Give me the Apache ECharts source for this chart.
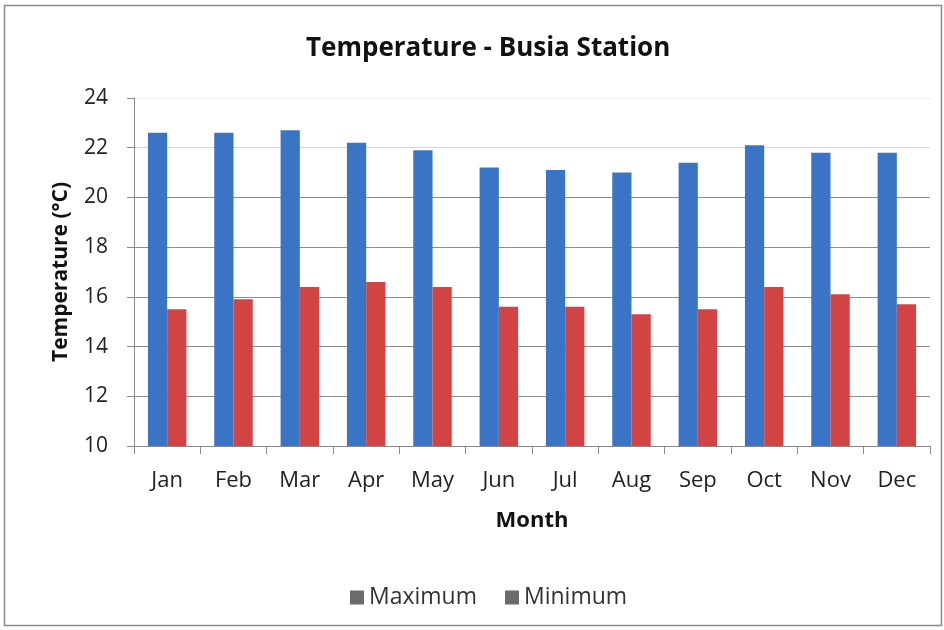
<!DOCTYPE html>
<html><head><meta charset="utf-8">
<script src="https://cdn.jsdelivr.net/npm/echarts@6/dist/echarts.min.js"></script>
<style>html,body{margin:0;padding:0;background:#fff}#c{width:944px;height:630px}</style>
</head><body><div id="c"></div>
<script>
var months = ['Jan','Feb','Mar','Apr','May','Jun','Jul','Aug','Sep','Oct','Nov','Dec'];
var maximum = [22.6,22.6,22.7,22.2,21.9,21.2,21.1,21.0,21.4,22.1,21.8,21.8];
var minimum = [15.5,15.9,16.4,16.6,16.4,15.6,15.6,15.3,15.5,16.4,16.1,15.7];
var yTicks = [10,12,14,16,18,20,22,24];

var font = 'Open Sans';
var chart = echarts.init(document.getElementById('c'), null, {renderer:'canvas'});
chart.setOption({
  animation:false,
  backgroundColor:'#fff',
  graphic:[{type:'rect',shape:{x:4.5,y:5.5,width:937,height:620},style:{fill:'none',stroke:'#8a8a8a',lineWidth:1.5}}],
  title:{text:'Temperature - Busia Station',left:301,top:31,
    textStyle:{fontFamily:font,fontWeight:'bold',fontSize:26,color:'#111'}},
  legend:{top:581,left:345,itemWidth:14,itemHeight:14,itemGap:28,icon:'rect',
    textStyle:{fontFamily:font,fontSize:23,color:'#333'},
    data:[{name:'Maximum',itemStyle:{color:'#6b6b6b'}},{name:'Minimum',itemStyle:{color:'#6b6b6b'}}]},
  grid:{left:134,right:14,top:98,bottom:184},
  xAxis:{type:'category',data:months,
    name:'Month',nameLocation:'middle',nameGap:64,
    nameTextStyle:{fontFamily:font,fontWeight:'bold',fontSize:22,color:'#111'},
    axisLine:{lineStyle:{color:'#888',width:1}},
    axisTick:{show:true,length:8,lineStyle:{color:'#888'}},
    axisLabel:{fontFamily:font,fontSize:22,color:'#222',margin:24}},
  yAxis:{type:'value',min:yTicks[0],max:yTicks[yTicks.length-1],interval:2,
    name:'Temperature (°C)',nameLocation:'middle',nameGap:62,
    nameTextStyle:{fontFamily:font,fontWeight:'bold',fontSize:21,color:'#111'},
    axisLine:{show:true,lineStyle:{color:'#888',width:1}},
    axisTick:{show:true,length:7,lineStyle:{color:'#888'}},
    splitLine:{lineStyle:{color:['#8c8c8c','#8c8c8c','#8c8c8c','#8c8c8c','#8c8c8c','#8c8c8c','#d6d6d6','#eeeeee'],width:1}},
    axisLabel:{fontFamily:font,fontSize:21,color:'#222',margin:26}},
  series:[
    {name:'Maximum',type:'bar',data:maximum,barGap:'0%',barCategoryGap:'42%',
      itemStyle:{color:'#3a74c4'}},
    {name:'Minimum',type:'bar',data:minimum,barGap:'0%',barCategoryGap:'42%',
      itemStyle:{color:'#d24343'}}
  ]
});
</script></body></html>
